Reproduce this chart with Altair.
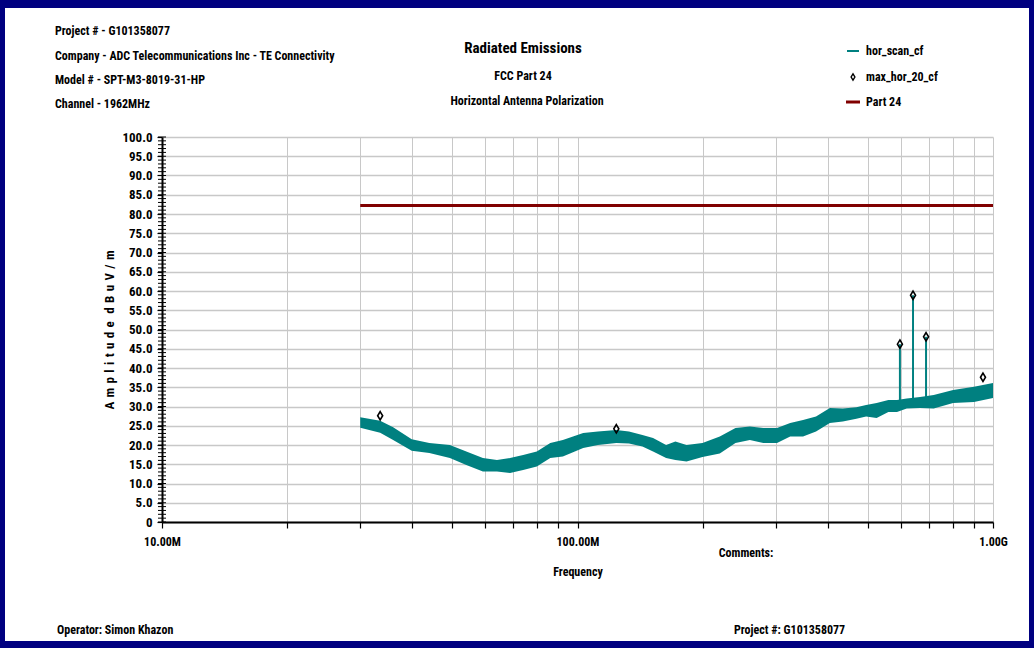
import altair as alt
import pandas as pd

# ---- measured trace (hor_scan_cf), drawn as a min/max envelope -------------
scan_freq_mhz = [30.0, 33.5, 36.0, 39.9, 44.0, 49.3, 54.0, 59.2, 64.0, 68.8,
                 74.0, 79.8, 86.0, 92.2, 103.2, 112.0, 124.0, 133.0, 143.3, 152.0,
                 163.4, 172.0, 183.0, 199.9, 220.0, 240.0, 259.9, 280.0, 302.1, 325.0,
                 349.0, 375.0, 404.9, 435.0, 469.1, 495.0, 524.7, 560.0, 587.4, 620.0,
                 667.4, 720.0, 801.7, 900.0, 1000.0]
scan_low = [24.5, 23.2, 21.3, 18.5, 17.9, 16.6, 14.8, 13.1, 13.1, 12.7,
            13.5, 14.4, 16.6, 17.0, 19.2, 20.0, 20.5, 20.4, 19.6, 18.3,
            16.6, 16.1, 15.7, 16.9, 17.8, 20.5, 21.3, 20.5, 20.5, 22.2,
            22.2, 23.5, 25.7, 26.1, 26.8, 27.4, 27.0, 28.6, 28.6, 29.5,
            29.6, 29.5, 30.9, 31.2, 32.2]
scan_high = [27.2, 26.3, 24.6, 21.5, 20.5, 20.0, 18.3, 16.6, 16.1, 16.6,
             17.4, 18.3, 20.5, 21.3, 23.1, 23.5, 23.9, 23.5, 22.6, 21.8,
             20.0, 20.9, 20.0, 20.5, 22.2, 24.4, 24.8, 24.4, 24.4, 25.7,
             26.5, 27.4, 29.6, 29.5, 29.8, 30.4, 30.9, 31.7, 31.7, 32.1,
             32.5, 33.0, 34.3, 35.1, 36.1]

# narrow emissions rising out of the noise floor
spike_freq_mhz = [597.0, 642.0, 690.0]
spike_base = [30.5, 31.0, 31.5]
spike_peak = [46.2, 58.9, 48.1]

# ---- max_hor_20_cf peak markers -------------------------------------------
max_freq_mhz = [33.5, 124.0, 597.0, 642.0, 690.0, 946.0]
max_level = [27.6, 24.2, 46.2, 58.9, 48.1, 37.6]

# ---- Part 24 limit ----------------------------------------------------------
limit_freq_mhz = [30.0, 1000.0]
limit_level = [82.2, 82.2]

x_tick_values = [10, 20, 30, 40, 50, 60, 70, 80, 90,
                 100, 200, 300, 400, 500, 600, 700, 800, 900, 1000]
y_major = list(range(0, 101, 5))
y_minor = list(range(0, 101, 1))

FONT = "'Roboto Condensed', 'Liberation Sans Narrow', 'DejaVu Sans Condensed', sans-serif"
TEAL = "#008080"
LIMIT = "#800000"
NAVY = "#000080"
GRID = "#c8c8c8"
DIAMOND = "M0,-1L0.6,0L0,1L-0.6,0Z"

W, H = 831, 385          # plot area
LEFT, TOP = 162, 137     # plot area origin in the page
PAGE_W, PAGE_H = 1034, 648

# letter-spaced amplitude title
GAP = " \u200a"
y_title = GAP.join("Amplitude") + GAP + " " + GAP.join("dBuV/m")

scan_df = pd.DataFrame({"f": scan_freq_mhz, "lo": scan_low, "hi": scan_high})
spike_df = pd.DataFrame({"f": spike_freq_mhz, "base": spike_base, "peak": spike_peak})
max_df = pd.DataFrame({"f": max_freq_mhz, "v": max_level})
limit_df = pd.DataFrame({"f": limit_freq_mhz, "v": limit_level})
minor_df = pd.DataFrame({"v": y_minor})

xscale = alt.Scale(type="log", domain=[10, 1000], nice=False)
yscale = alt.Scale(domain=[0, 100], nice=False)

x_axis = alt.Axis(
    values=x_tick_values,
    labelExpr="datum.value == 10 ? '10.00M' : datum.value == 100 ? '100.00M' : datum.value == 1000 ? '1.00G' : ''",
    labelFlush=False, labelOverlap=False, labelPadding=8,
    labelFont=FONT, labelFontWeight="bold", labelFontSize=12, labelColor="black",
    tickSize=6, tickColor="black", tickWidth=1.2,
    domainColor="black", domainWidth=2,
    grid=True, gridColor=GRID, gridWidth=1,
    title="Frequency", titleFont=FONT, titleFontWeight="bold", titleFontSize=12,
    titleColor="black", titlePadding=19,
)
y_axis = alt.Axis(
    values=y_major,
    labelExpr="datum.value == 0 ? '0' : format(datum.value, '.1f')",
    labelFont=FONT, labelFontWeight="bold", labelFontSize=13, labelColor="black",
    labelPadding=5, labelOverlap=False, labelFlush=False,
    tickSize=5, tickColor="black", tickWidth=1.2,
    domainColor="black", domainWidth=2,
    grid=True, gridColor=GRID, gridWidth=1.5,
    title=y_title, titleFont=FONT, titleFontWeight="bold",
    titleFontSize=13, titleColor="black", titlePadding=5,
)


def X(field):
    return alt.X(field, type="quantitative", scale=xscale, axis=x_axis)


def Y(field):
    return alt.Y(field, type="quantitative", scale=yscale, axis=y_axis)


band = alt.Chart(scan_df).mark_area(color=TEAL, opacity=1, interpolate="linear").encode(
    x=X("f"), y=Y("lo"), y2="hi",
)
spikes = alt.Chart(spike_df).mark_rule(color=TEAL, strokeWidth=2).encode(
    x=X("f"), y=Y("base"), y2="peak"
)
markers = alt.Chart(max_df).mark_point(
    shape=DIAMOND, filled=False, color="black", strokeWidth=1.6, size=70, opacity=1
).encode(x=X("f"), y=Y("v"))
limit = alt.Chart(limit_df).mark_line(color=LIMIT, strokeWidth=3).encode(
    x=X("f"), y=Y("v")
)
# minor ticks on the amplitude axis, one per dB
minor = alt.Chart(minor_df).mark_rule(color="black", strokeWidth=1).encode(
    y=Y("v"), x=alt.value(-4), x2=alt.value(4)
)

layers = [band, spikes, markers, limit, minor]


def px(x):
    return x - LEFT


def py(y):
    return y - TOP


def label(text, x, y, size=12, align="left"):
    return alt.Chart(pd.DataFrame({"t": [text]})).mark_text(
        font=FONT, fontWeight="bold", fontSize=size, color="black",
        align=align, baseline="middle",
    ).encode(text="t:N", x=alt.value(px(x)), y=alt.value(py(y)))


# header block
layers += [
    label("Project # - G101358077", 55, 31),
    label("Company - ADC Telecommunications Inc - TE Connectivity", 55, 56),
    label("Model # - SPT-M3-8019-31-HP", 55, 80),
    label("Channel - 1962MHz", 55, 104),
    label("Radiated Emissions", 523, 48, size=15, align="center"),
    label("FCC Part 24", 523, 76, align="center"),
    label("Horizontal Antenna Polarization", 527, 101, align="center"),
    label("Comments:", 746, 553, align="center"),
    label("Operator: Simon Khazon", 57, 630),
    label("Project #: G101358077", 734, 630),
]

# legend
leg_x, leg_text_x = 853, 866
leg_rows = [51, 77, 102]
layers += [
    label("hor_scan_cf", leg_text_x, leg_rows[0]),
    label("max_hor_20_cf", leg_text_x, leg_rows[1]),
    label("Part 24", leg_text_x, leg_rows[2]),
    alt.Chart(pd.DataFrame({"k": [0]})).mark_rule(color=TEAL, strokeWidth=2).encode(
        x=alt.value(px(leg_x - 6)), x2=alt.value(px(leg_x + 6)), y=alt.value(py(leg_rows[0]))),
    alt.Chart(pd.DataFrame({"k": [0]})).mark_point(
        shape=DIAMOND, filled=False, color="black", strokeWidth=1.4, size=40, opacity=1
    ).encode(x=alt.value(px(leg_x)), y=alt.value(py(leg_rows[1]))),
    alt.Chart(pd.DataFrame({"k": [0]})).mark_rule(color=LIMIT, strokeWidth=3).encode(
        x=alt.value(px(leg_x - 7)), x2=alt.value(px(leg_x + 7)), y=alt.value(py(leg_rows[2]))),
]


# navy page frame
def frame(x0, x1, y0, y1):
    return alt.Chart(pd.DataFrame({"k": [0]})).mark_rect(color=NAVY).encode(
        x=alt.value(px(x0)), x2=alt.value(px(x1)), y=alt.value(py(y0)), y2=alt.value(py(y1)))


layers += [
    frame(0, PAGE_W, 0, 8),
    frame(0, PAGE_W, PAGE_H - 7, PAGE_H),
    frame(0, 5, 0, PAGE_H),
    frame(PAGE_W - 5, PAGE_W, 0, PAGE_H),
]

chart = alt.layer(*layers).properties(
    width=W, height=H,
    autosize=alt.AutoSizeParams(type="none"),
    padding={"left": LEFT, "top": TOP, "right": PAGE_W - LEFT - W, "bottom": PAGE_H - TOP - H},
    background="white",
).configure_view(stroke=None, clip=False)

chart.save("out.html", embed_options={"renderer": "svg", "actions": False})
